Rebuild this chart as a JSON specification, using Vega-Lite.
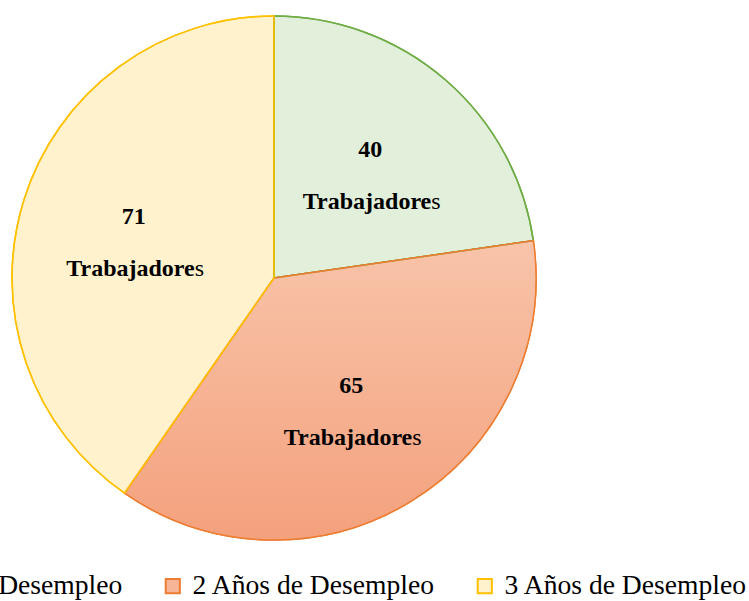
{
  "$schema": "https://vega.github.io/schema/vega-lite/v6.json",
  "width": 548,
  "height": 556,
  "autosize": {"type": "none"},
  "padding": {"left": 0, "top": 0, "right": 201, "bottom": 45},
  "background": "white",
  "view": {"stroke": null},
  "data": {
    "values": [
      {"cat": "1 Año de Desempleo", "n": 40},
      {"cat": "2 Años de Desempleo", "n": 65},
      {"cat": "3 Años de Desempleo", "n": 71}
    ]
  },
  "layer": [
    {
      "mark": {"type": "arc", "outerRadius": 262, "strokeWidth": 1.5},
      "encoding": {
        "theta": {"field": "n", "type": "quantitative", "stack": true},
        "fill": {
          "field": "cat", "type": "nominal",
          "scale": {"domain": ["1 Año de Desempleo", "2 Años de Desempleo", "3 Años de Desempleo"], "range": ["#E2EFDA", "#F6B596", "#FFF2CC"]},
          "legend": {
            "orient": "none", "legendX": -142, "legendY": 572, "direction": "horizontal",
            "title": null, "padding": 0, "symbolType": "square", "symbolSize": 200,
            "symbolStrokeWidth": 2, "labelFont": "Liberation Serif", "labelFontSize": 27.6,
            "labelColor": "black", "labelOffset": 6, "columnPadding": 35, "labelLimit": 400
          }
        },
        "stroke": {
          "field": "cat", "type": "nominal",
          "scale": {"domain": ["1 Año de Desempleo", "2 Años de Desempleo", "3 Años de Desempleo"], "range": ["#70AD47", "#ED7D31", "#FFC000"]}
        }
      }
    },
    {
      "mark": {
        "type": "arc", "outerRadius": 262, "strokeWidth": 0,
        "fill": {"gradient": "linear", "x1": 0, "y1": 0, "x2": 0, "y2": 1,
          "stops": [{"offset": 0, "color": "#F8C4AA"}, {"offset": 1, "color": "#F4A17D"}]}
      },
      "encoding": {
        "theta": {"field": "n", "type": "quantitative", "stack": true},
        "detail": {"field": "cat", "type": "nominal"},
        "fillOpacity": {"condition": {"test": "datum.cat === '2 Años de Desempleo'", "value": 1}, "value": 0}
      }
    },
    {
      "mark": {"type": "arc", "outerRadius": 262, "strokeWidth": 1.5, "fillOpacity": 0},
      "encoding": {
        "theta": {"field": "n", "type": "quantitative", "stack": true},
        "stroke": {"field": "cat", "type": "nominal", "legend": null}
      }
    },
    {
      "mark": {"type": "text", "radius": 147, "dy": -17, "font": "Liberation Serif", "fontSize": 24, "fontWeight": "bold", "color": "black"},
      "encoding": {
        "theta": {"field": "n", "type": "quantitative", "stack": true},
        "detail": {"field": "cat", "type": "nominal"},
        "text": {"field": "n", "type": "quantitative"}
      }
    },
    {
      "mark": {"type": "text", "radius": 147, "dy": 35, "dx": 61, "align": "right", "font": "Liberation Serif", "fontSize": 24, "fontWeight": "bold", "color": "black", "text": "Trabajadore"},
      "encoding": {
        "theta": {"field": "n", "type": "quantitative", "stack": true},
        "detail": {"field": "cat", "type": "nominal"}
      }
    },
    {
      "mark": {"type": "text", "radius": 147, "dy": 35, "dx": 61, "align": "left", "font": "Liberation Serif", "fontSize": 24, "fontWeight": "normal", "color": "black", "text": "s"},
      "encoding": {
        "theta": {"field": "n", "type": "quantitative", "stack": true},
        "detail": {"field": "cat", "type": "nominal"}
      }
    }
  ]
}
